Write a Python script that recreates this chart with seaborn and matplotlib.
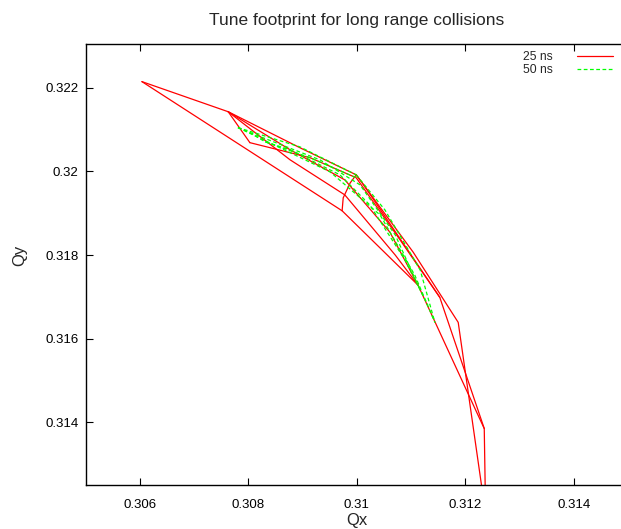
import matplotlib
matplotlib.use("Agg")
import matplotlib.pyplot as plt
from matplotlib.ticker import FuncFormatter
import seaborn as sns
import pandas as pd

# --- footprint data (Qx, Qy) ---
# 25 ns spacing (red, solid)
r_upper_qx = [0.30604, 0.30763, 0.30895, 0.30999]
r_upper_qy = [0.32215, 0.32143, 0.32057, 0.31992]
r_lower_qx = [0.30604, 0.30973, 0.31113, 0.31205, 0.31235, 0.31238]
r_lower_qy = [0.32215, 0.31906, 0.31728, 0.31469, 0.31385, 0.31140]
r_right_qx = [0.30999, 0.31104, 0.31187, 0.31242]
r_right_qy = [0.31992, 0.31807, 0.31639, 0.31140]
r_right2_qx = [0.30999, 0.31010, 0.31153, 0.31235]
r_right2_qy = [0.31992, 0.31973, 0.31699, 0.31385]
r_diag_qx = [0.30999, 0.30988, 0.30975, 0.30973]
r_diag_qy = [0.31992, 0.31973, 0.31937, 0.31906]
r_in1_qx = [0.30763, 0.30877, 0.30978, 0.31061, 0.31113]
r_in1_qy = [0.32143, 0.32052, 0.31980, 0.31855, 0.31728]
r_in2_qx = [0.30803, 0.30914, 0.30999, 0.31080, 0.31153]
r_in2_qy = [0.32069, 0.32033, 0.31985, 0.31836, 0.31699]
r_in3_qx = [0.30763, 0.30877, 0.30978, 0.31071, 0.31113]
r_in3_qy = [0.32143, 0.32028, 0.31944, 0.31800, 0.31728]
r_in4_qx = [0.30763, 0.30803]
r_in4_qy = [0.32143, 0.32069]

# 50 ns spacing (green, dashed)
g_upper_qx = [0.30781, 0.30895, 0.30999]
g_upper_qy = [0.32105, 0.32059, 0.31992]
g_lower_qx = [0.30781, 0.30951, 0.31043, 0.31107, 0.31144]
g_lower_qy = [0.32105, 0.31999, 0.31896, 0.31752, 0.31639]
g_right_qx = [0.30999, 0.31052, 0.31117, 0.31144]
g_right_qy = [0.31992, 0.31908, 0.31764, 0.31639]
g_in1_qx = [0.30803, 0.30932, 0.31006, 0.31071, 0.31117]
g_in1_qy = [0.32093, 0.32028, 0.31968, 0.31848, 0.31716]
g_in2_qx = [0.30831, 0.30914, 0.30999]
g_in2_qy = [0.32071, 0.32033, 0.31985]
g_in3_qx = [0.30877, 0.30969, 0.31024, 0.31089, 0.31131]
g_in3_qy = [0.32052, 0.31992, 0.31920, 0.31788, 0.31680]
g_in4_qx = [0.30781, 0.30803, 0.30831, 0.30877]
g_in4_qy = [0.32105, 0.32093, 0.32071, 0.32052]

red_lines = [(r_upper_qx, r_upper_qy), (r_lower_qx, r_lower_qy),
             (r_right_qx, r_right_qy), (r_right2_qx, r_right2_qy),
             (r_diag_qx, r_diag_qy), (r_in1_qx, r_in1_qy),
             (r_in2_qx, r_in2_qy), (r_in3_qx, r_in3_qy), (r_in4_qx, r_in4_qy)]
green_lines = [(g_upper_qx, g_upper_qy), (g_lower_qx, g_lower_qy),
               (g_right_qx, g_right_qy), (g_in1_qx, g_in1_qy),
               (g_in2_qx, g_in2_qy), (g_in3_qx, g_in3_qy), (g_in4_qx, g_in4_qy)]

rows = []
seg = 0
for label, lines in [("25 ns", red_lines), ("50 ns", green_lines)]:
    for qx, qy in lines:
        for k, (a, b) in enumerate(zip(qx, qy)):
            rows.append({"Qx": a, "Qy": b, "spacing": label, "seg": seg, "k": k})
        seg += 1
df = pd.DataFrame(rows)

sns.set_style("ticks")
plt.rcParams["font.family"] = ["Liberation Sans", "DejaVu Sans"]

fig = plt.figure(figsize=(6.21, 5.29), dpi=100)
ax = fig.add_axes([0.1377, 0.0832, 0.8736, 0.8336])

sns.lineplot(data=df, x="Qx", y="Qy", hue="spacing", style="spacing",
             units="seg", estimator=None, sort=False,
             palette={"25 ns": "#ff0000", "50 ns": "#00ff00"},
             dashes={"25 ns": "", "50 ns": (3, 2)},
             linewidth=0.9, ax=ax)

ax.set_xlim(0.305, 0.315)
ax.set_ylim(0.3125, 0.32305)
ax.set_xticks([0.306, 0.308, 0.31, 0.312, 0.314])
ax.set_yticks([0.314, 0.316, 0.318, 0.32, 0.322])
fmt = FuncFormatter(lambda v, p: f"{v:g}")
ax.xaxis.set_major_formatter(fmt)
ax.yaxis.set_major_formatter(fmt)
ax.tick_params(direction="in", length=5, width=0.8, top=True, right=True,
               labelsize=9.5, colors="black")
ax.tick_params(axis="x", pad=10)
ax.tick_params(axis="y", pad=5)
for s in ax.spines.values():
    s.set_linewidth(1.0)
    s.set_color("black")

ax.set_xlabel("Qx", fontsize=12)
ax.set_ylabel("Qy", fontsize=12)
ax.xaxis.set_label_coords(0.5, -0.063)
ax.yaxis.set_label_coords(-0.108, 0.52)
ax.set_title("Tune footprint for long range collisions", fontsize=12.5, pad=14)

handles, labels = ax.get_legend_handles_labels()
ax.legend(handles, labels, markerfirst=False, frameon=False, fontsize=8.7,
          loc="upper right", bbox_to_anchor=(613 / 621, 0.9036),
          bbox_transform=fig.transFigure, borderpad=0, borderaxespad=0,
          handlelength=3.0, handletextpad=2.0, labelspacing=0.1)

fig.savefig("out.png", dpi=100)
